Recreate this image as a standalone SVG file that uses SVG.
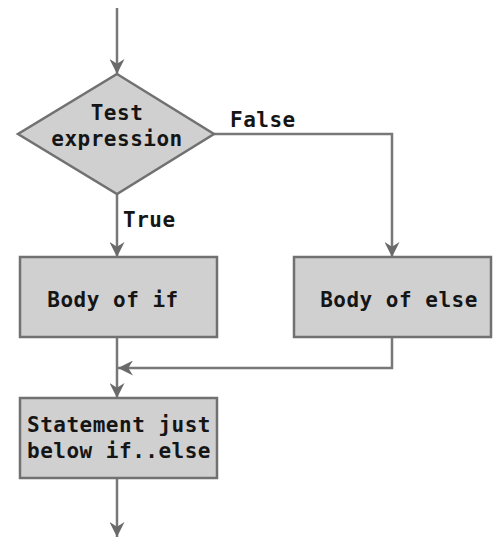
<svg xmlns="http://www.w3.org/2000/svg" width="498" height="537" viewBox="0 0 498 537">
  <style>
    .shape { fill: #d0d0d0; stroke: #717171; stroke-width: 2.5; }
    .flow { fill: none; stroke: #787878; stroke-width: 2.5; }
    .label { font-family: "DejaVu Sans Mono", "Liberation Mono", monospace; font-weight: bold; font-size: 21px; fill: #151515; letter-spacing: 0.5px; }
  </style>
  <defs>
    <marker id="arrow" viewBox="0 0 16 16" refX="16" refY="8" markerWidth="15" markerHeight="15" markerUnits="userSpaceOnUse" orient="auto">
      <path d="M0,0 L16,8 L0,16 L5,8 z" fill="#6a6a6a"/>
    </marker>
  </defs>

  <g id="connectors">
    <path class="flow" d="M117,8 V74" marker-end="url(#arrow)"/>
    <path class="flow" d="M214,134 H392 V257" marker-end="url(#arrow)"/>
    <path class="flow" d="M117,194 V257" marker-end="url(#arrow)"/>
    <path class="flow" d="M117,337 V398" marker-end="url(#arrow)"/>
    <path class="flow" d="M392,337 V368 H118" stroke-width="2" marker-end="url(#arrow)"/>
    <path class="flow" d="M117,478 V537" marker-end="url(#arrow)"/>
    <text class="label" x="230" y="127">False</text>
    <text class="label" x="123" y="227">True</text>
  </g>

  <g id="test-expression">
    <polygon class="shape" points="117,74 214,134 117,194 18,134"/>
    <text class="label" x="117" y="120" text-anchor="middle">Test</text>
    <text class="label" x="117" y="146" text-anchor="middle">expression</text>
  </g>

  <g id="body-if">
    <rect class="shape" x="20" y="257" width="197" height="80"/>
    <text class="label" x="113" y="307" text-anchor="middle">Body of if</text>
  </g>

  <g id="body-else">
    <rect class="shape" x="294" y="257" width="197" height="80"/>
    <text class="label" x="399" y="307" text-anchor="middle">Body of else</text>
  </g>

  <g id="statement-below">
    <rect class="shape" x="20" y="398" width="197" height="80"/>
    <text class="label" x="27" y="432">Statement just</text>
    <text class="label" x="27" y="458">below if..else</text>
  </g>
</svg>
